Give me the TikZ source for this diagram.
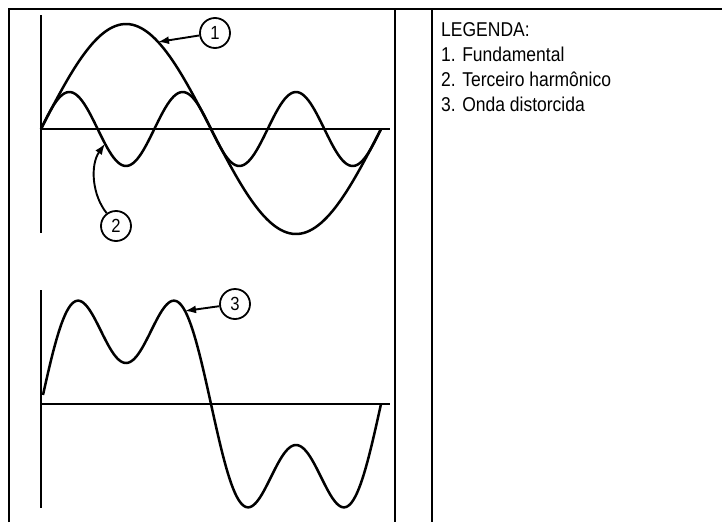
\documentclass[tikz,border=0pt]{standalone}
\usepackage{fontspec}
\setmainfont{Liberation Sans}[FakeStretch=0.875]
\usepackage{tikz}
\usetikzlibrary{arrows.meta}

\begin{document}
\begin{tikzpicture}[
		x=1pt, y=-1pt,
		>={Latex[length=11pt,width=8pt]},
		frameline/.style={line width=2.4pt},
		axisline/.style={line width=2.4pt},
		wave/.style={line width=2.5pt, line join=round},
		callout/.style={draw, circle, line width=1.8pt, minimum size=30pt, inner sep=0pt, font=\fontsize{19}{19}\selectfont},
		callarrow/.style={->, line width=1.9pt},
		legtext/.style={anchor=base west, inner sep=0pt, font=\fontsize{20}{20}\selectfont}
		]
		\useasboundingbox (0,0) rectangle (722,522);
		% 360/340 = 1.0588 degrees per pt
		
		% frame
		\draw[frameline] (9,522) -- (9,9) -- (722,9);
		\draw[frameline] (395,9) -- (395,522);
		\draw[frameline] (432,9) -- (432,522);
		
		% top: fundamental and third harmonic
		\draw[axisline] (41,15) -- (41,233);
		\draw[axisline] (41,129) -- (390,129);
		\draw[wave] plot[domain=41:381, samples=120] (\x, {129-105*sin((\x-41)*1.0588)});
		\draw[wave] plot[domain=41:381, samples=160] (\x, {129-37*sin((\x-41)*3.1765)});
		
		\coordinate (fund) at (158, {129-105*sin(124)});
		\coordinate (harm) at (105, {129-37*sin(64*3.1765)});
		\node[callout] (c1) at (215,33) {1};
		\node[callout] (c2) at (116,226) {2};
		\draw[callarrow] (c1) -- (fund);
		\draw[callarrow] (c2.126) .. controls (92,195) and (90,165) .. (harm);
		
		% bottom: distorted wave
		\draw[axisline] (41,290) -- (41,508);
		\draw[axisline] (41,404) -- (390,404);
		\draw[wave] plot[domain=43:381, samples=200] (\x, {404-92*sin((\x-41)*1.0588)-51*sin((\x-41)*3.1765)});
		\coordinate (dist) at (185, {404-92*sin(152.5)-51*sin(457.5)});
		\node[callout] (c3) at (235,304) {3};
		\draw[callarrow] (c3) -- (dist);
		
		% legend
		\foreach \txt [count=\i from 0] in {LEGENDA:, 1. Fundamental, 2. Terceiro harmônico, 3. Onda distorcida}
		\node[legtext] (leg\i) at (441, {36.5+25*\i}) {\txt};
		
	\end{tikzpicture}
\end{document}
